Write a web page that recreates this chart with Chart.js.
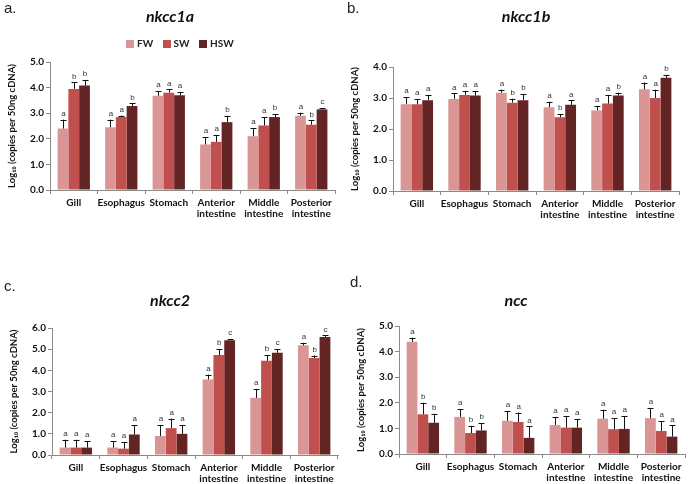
<!DOCTYPE html>
<html>
<head>
<meta charset="utf-8">
<script src="https://cdn.jsdelivr.net/npm/chart.js@4"></script>
<style>
  body { margin: 0; background: #fff; }
  #wrap { position: relative; width: 688px; height: 484px; overflow: hidden; font-family: Lato, "Open Sans", sans-serif; }
  #wrap canvas { position: absolute; left: 0; top: 0; }
  .lab { position: absolute; font-family: "Liberation Sans", Arial, sans-serif; font-size: 15px; color: #222; }
  .ttl { position: absolute; font-family: Lato, sans-serif; font-weight: bold; font-style: italic; font-size: 16px; color: #111; transform: translateX(-50%); }
  .leg { position: absolute; top: 37px; left: 126px; font-family: Lato, sans-serif; font-weight: bold; font-size: 10px; color: #222; white-space: nowrap; }
  .leg span.sw { display: inline-block; width: 8px; height: 8px; margin: 0 3px 0 0; vertical-align: -1px; }
  .leg span.t { margin-right: 7px; }
</style>
</head>
<body>
<div id="wrap">
  <canvas id="cA" width="688" height="484"></canvas>
  <canvas id="cB" width="688" height="484"></canvas>
  <canvas id="cC" width="688" height="484"></canvas>
  <canvas id="cD" width="688" height="484"></canvas>
  <div class="lab" style="left:4px;top:-1px;">a.</div>
  <div class="lab" style="left:347px;top:-1px;">b.</div>
  <div class="lab" style="left:4px;top:277px;">c.</div>
  <div class="lab" style="left:350px;top:273px;">d.</div>
  <div class="ttl" style="left:170px;top:6px;">nkcc1a</div>
  <div class="ttl" style="left:526px;top:6px;">nkcc1b</div>
  <div class="ttl" style="left:170px;top:290px;">nkcc2</div>
  <div class="ttl" style="left:516px;top:290px;">ncc</div>
  <div class="leg">
    <span class="sw" style="background:#DA9694"></span><span class="t">FW</span>
    <span class="sw" style="background:#C0504D"></span><span class="t">SW</span>
    <span class="sw" style="background:#632523"></span><span class="t">HSW</span>
  </div>
</div>
<script>
// kategori dan kelompok
const categories = ['Gill', 'Esophagus', 'Stomach', ['Anterior', 'intestine'], ['Middle', 'intestine'], ['Posterior', 'intestine']];
const groups = ['FW', 'SW', 'HSW'];
const colors = ['#DA9694', '#C0504D', '#632523'];
const yTitle = 'Log\u2081\u2080 (copies per 50ng cDNA)';

// nkcc1a
const nkcc1aFW = [2.40, 2.45, 3.68, 1.78, 2.10, 2.90];
const nkcc1aSW = [3.95, 2.85, 3.80, 1.88, 2.52, 2.55];
const nkcc1aHSW = [4.08, 3.28, 3.70, 2.65, 2.85, 3.15];
const nkcc1aFWse = [0.35, 0.30, 0.19, 0.29, 0.32, 0.12];
const nkcc1aSWse = [0.25, 0.06, 0.13, 0.27, 0.33, 0.17];
const nkcc1aHSWse = [0.22, 0.10, 0.12, 0.25, 0.12, 0.05];
const nkcc1aFWlet = ['a', 'a', 'a', 'a', 'a', 'a'];
const nkcc1aSWlet = ['b', 'a', 'a', 'a', 'a', 'b'];
const nkcc1aHSWlet = ['b', 'b', 'a', 'b', 'b', 'c'];

// nkcc1b
const nkcc1bFW = [2.80, 2.97, 3.17, 2.70, 2.60, 3.28];
const nkcc1bSW = [2.80, 3.10, 2.85, 2.38, 2.82, 3.00];
const nkcc1bHSW = [2.93, 3.08, 2.93, 2.78, 3.08, 3.65];
const nkcc1bFWse = [0.23, 0.18, 0.10, 0.18, 0.15, 0.22];
const nkcc1bSWse = [0.17, 0.13, 0.13, 0.10, 0.28, 0.27];
const nkcc1bHSWse = [0.17, 0.15, 0.20, 0.14, 0.09, 0.10];
const nkcc1bFWlet = ['a', 'a', 'a', 'a', 'a', 'a'];
const nkcc1bSWlet = ['a', 'a', 'b', 'b', 'a', 'a'];
const nkcc1bHSWlet = ['a', 'a', 'b', 'a', 'b', 'b'];

// nkcc2
const nkcc2FW = [0.35, 0.35, 0.90, 3.57, 2.70, 5.18];
const nkcc2SW = [0.35, 0.30, 1.27, 4.72, 4.45, 4.58];
const nkcc2HSW = [0.35, 0.97, 1.00, 5.42, 4.83, 5.58];
const nkcc2FWse = [0.37, 0.30, 0.52, 0.23, 0.42, 0.12];
const nkcc2SWse = [0.37, 0.32, 0.45, 0.28, 0.27, 0.12];
const nkcc2HSWse = [0.30, 0.45, 0.42, 0.05, 0.17, 0.07];
const nkcc2FWlet = ['a', 'a', 'a', 'a', 'a', 'a'];
const nkcc2SWlet = ['a', 'a', 'a', 'b', 'b', 'b'];
const nkcc2HSWlet = ['a', 'a', 'a', 'c', 'c', 'c'];

// ncc
const nccFW = [4.38, 1.45, 1.30, 1.13, 1.38, 1.40];
const nccSW = [1.55, 0.82, 1.25, 1.03, 0.97, 0.90];
const nccHSW = [1.22, 0.92, 0.63, 1.03, 0.98, 0.68];
const nccFWse = [0.17, 0.31, 0.38, 0.32, 0.35, 0.40];
const nccSWse = [0.45, 0.28, 0.37, 0.45, 0.43, 0.38];
const nccHSWse = [0.35, 0.28, 0.45, 0.34, 0.50, 0.44];
const nccFWlet = ['a', 'a', 'a', 'a', 'a', 'a'];
const nccSWlet = ['b', 'b', 'a', 'a', 'a', 'a'];
const nccHSWlet = ['b', 'b', 'a', 'a', 'a', 'a'];

// plugin error bar + huruf
const errPlugin = {
    id: 'errPlugin',
    afterDatasetsDraw(chart) {
        const ctx = chart.ctx;
        const y = chart.scales.y;
        chart.data.datasets.forEach((ds, i) => {
            const meta = chart.getDatasetMeta(i);
            meta.data.forEach((bar, j) => {
                const top = y.getPixelForValue(ds.data[j] + ds.se[j]);
                ctx.save();
                ctx.strokeStyle = '#111';
                ctx.lineWidth = 1;
                ctx.beginPath();
                ctx.moveTo(Math.round(bar.x) + 0.5, bar.y);
                ctx.lineTo(Math.round(bar.x) + 0.5, top);
                ctx.moveTo(Math.round(bar.x) - 2.5, Math.round(top) + 0.5);
                ctx.lineTo(Math.round(bar.x) + 3.5, Math.round(top) + 0.5);
                ctx.stroke();
                ctx.fillStyle = '#333';
                ctx.font = '8px "Liberation Sans", Arial, sans-serif';
                ctx.textAlign = 'center';
                ctx.textBaseline = 'bottom';
                ctx.fillText(ds.letters[j], bar.x + 0.5, top - 2);
                ctx.restore();
            });
        });
    }
};

function makeChart(id, fw, sw, hsw, se, letters, yMax, area) {
    const W = 688, H = 484, yW = 44, xH = 28;
    const config = {
        type: 'bar',
        data: {
            labels: categories,
            datasets: [
                { label: groups[0], data: fw, se: se[0], letters: letters[0], backgroundColor: colors[0] },
                { label: groups[1], data: sw, se: se[1], letters: letters[1], backgroundColor: colors[1] },
                { label: groups[2], data: hsw, se: se[2], letters: letters[2], backgroundColor: colors[2] },
            ]
        },
        options: {
            responsive: false,
            animation: false,
            events: [],
            categoryPercentage: 0.68,
            barPercentage: 1.0,
            layout: {
                padding: { left: area.left - yW, top: area.top, right: W - area.right, bottom: H - area.bottom - xH }
            },
            plugins: { legend: { display: false }, tooltip: { enabled: false } },
            scales: {
                x: {
                    afterFit: s => { s.height = xH; },
                    grid: { offset: true, drawOnChartArea: false, drawTicks: true, tickLength: 4, color: '#8a8a8a' },
                    border: { color: '#8a8a8a', width: 1 },
                    ticks: { autoSkip: false, color: '#111', padding: 3, maxRotation: 0,
                        font: { family: 'Lato', weight: 'bold', size: 10, lineHeight: 1.1 } }
                },
                y: {
                    min: 0, max: yMax,
                    afterFit: s => { s.width = yW; },
                    grid: { drawOnChartArea: false, drawTicks: true, tickLength: 4, color: '#8a8a8a' },
                    border: { color: '#8a8a8a', width: 1 },
                    ticks: { stepSize: 1, color: '#111', padding: 2, font: { family: 'Lato', weight: 'bold', size: 10 },
                        callback: v => v.toFixed(1) },
                    title: { display: true, text: yTitle, color: '#111', padding: 0, font: { family: 'Lato', weight: 'bold', size: 9.5 } }
                }
            }
        },
        plugins: [errPlugin]
    };
    return new Chart(document.getElementById(id), config);
}

makeChart('cA', nkcc1aFW, nkcc1aSW, nkcc1aHSW,
    [nkcc1aFWse, nkcc1aSWse, nkcc1aHSWse], [nkcc1aFWlet, nkcc1aSWlet, nkcc1aHSWlet], 5,
    { left: 50, top: 62, right: 335, bottom: 190 });
makeChart('cB', nkcc1bFW, nkcc1bSW, nkcc1bHSW,
    [nkcc1bFWse, nkcc1bSWse, nkcc1bHSWse], [nkcc1bFWlet, nkcc1bSWlet, nkcc1bHSWlet], 4,
    { left: 393, top: 67, right: 679, bottom: 191 });
makeChart('cC', nkcc2FW, nkcc2SW, nkcc2HSW,
    [nkcc2FWse, nkcc2SWse, nkcc2HSWse], [nkcc2FWlet, nkcc2SWlet, nkcc2HSWlet], 6,
    { left: 52, top: 328, right: 338, bottom: 455 });
makeChart('cD', nccFW, nccSW, nccHSW,
    [nccFWse, nccSWse, nccHSWse], [nccFWlet, nccSWlet, nccHSWlet], 5,
    { left: 399, top: 326, right: 685, bottom: 454 });
</script>
</body>
</html>
